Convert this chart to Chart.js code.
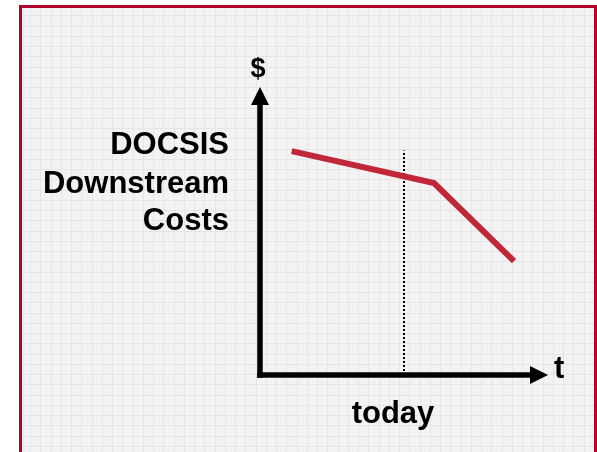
<!DOCTYPE html>
<html>
<head>
<meta charset="utf-8">
<script src="https://cdn.jsdelivr.net/npm/chart.js@4"></script>
<style>
  html, body { margin: 0; padding: 0; background: #ffffff; }
  #wrap { width: 597px; height: 452px; }
</style>
</head>
<body>
<div id="wrap"><canvas id="c" width="597" height="452"></canvas></div>
<script>
// ---- data (conceptual units on a 0..10 scale) ----
const costX = [1.1, 6.04, 8.82];
const costY = [7.8, 6.69, 3.97];
const todayX = [5, 5];
const todayY = [0, 7.82];
const yTitleLines = ['DOCSIS', 'Downstream', 'Costs'];
const xLabel = 'today';
const yAxisLabel = '$';
const xAxisLabel = 't';

const FONT = "'Liberation Sans', Arial, sans-serif";

const decor = {
  id: 'decor',
  beforeDraw(chart) {
    const ctx = chart.ctx;
    const W = chart.width, H = chart.height;
    ctx.save();
    ctx.fillStyle = '#ffffff';
    ctx.fillRect(0, 0, W, H);
    // panel
    ctx.fillStyle = '#f3f3f3';
    ctx.fillRect(20, 6, W - 20, H - 6);
    ctx.strokeStyle = '#e5e5e5';
    ctx.lineWidth = 1;
    const step = 10.25;
    for (let x = 19.75 + step; x < W; x += step) {
      const px = Math.round(x) + 0.5;
      ctx.beginPath(); ctx.moveTo(px, 6); ctx.lineTo(px, H); ctx.stroke();
    }
    for (let y = 5 + step; y < H; y += step) {
      const py = Math.round(y) + 0.5;
      ctx.beginPath(); ctx.moveTo(20, py); ctx.lineTo(W, py); ctx.stroke();
    }
    // border
    ctx.strokeStyle = '#b0042a';
    ctx.lineWidth = 3;
    ctx.beginPath();
    ctx.moveTo(20.5, H + 5);
    ctx.lineTo(20.5, 6.5);
    ctx.lineTo(595.5, 6.5);
    ctx.lineTo(595.5, H + 5);
    ctx.stroke();
    ctx.restore();
  },
  afterDatasetsDraw(chart) {
    const ctx = chart.ctx;
    const xs = chart.scales.x, ys = chart.scales.y;
    const x0 = xs.getPixelForValue(0), y0 = ys.getPixelForValue(0);
    const xMax = xs.getPixelForValue(10), yMax = ys.getPixelForValue(10);
    ctx.save();
    ctx.strokeStyle = '#000';
    ctx.fillStyle = '#000';
    ctx.lineWidth = 5.5;
    ctx.lineCap = 'butt';
    // y axis
    ctx.beginPath(); ctx.moveTo(x0, y0 + 2.75); ctx.lineTo(x0, yMax + 16); ctx.stroke();
    // x axis
    ctx.beginPath(); ctx.moveTo(x0 - 2.75, y0); ctx.lineTo(xMax - 17, y0); ctx.stroke();
    // arrow heads
    ctx.beginPath();
    ctx.moveTo(x0, yMax - 1); ctx.lineTo(x0 + 9, yMax + 17); ctx.lineTo(x0 - 9, yMax + 17); ctx.closePath(); ctx.fill();
    ctx.beginPath();
    ctx.moveTo(xMax, y0); ctx.lineTo(xMax - 18, y0 - 9); ctx.lineTo(xMax - 18, y0 + 9); ctx.closePath(); ctx.fill();
    // labels
    ctx.font = 'bold 27px ' + FONT;
    ctx.textAlign = 'center';
    ctx.textBaseline = 'alphabetic';
    ctx.fillText(yAxisLabel, x0 - 2, yMax - 11);
    ctx.font = 'bold 31px ' + FONT;
    ctx.textAlign = 'left';
    ctx.fillText(xAxisLabel, xMax + 6, y0 + 3);
    ctx.textAlign = 'center';
    ctx.fillText(xLabel, xs.getPixelForValue(todayX[0]) - 11, y0 + 48);
    ctx.textAlign = 'right';
    const baselines = [154, 193, 230];
    yTitleLines.forEach((t, i) => ctx.fillText(t, 229, baselines[i]));
    ctx.restore();
  }
};

new Chart(document.getElementById('c'), {
  type: 'line',
  data: {
    datasets: [
      {
        label: 'DOCSIS Downstream Costs',
        data: costX.map((x, i) => ({ x, y: costY[i] })),
        borderColor: '#c0283a',
        borderWidth: 6,
        pointRadius: 0,
        tension: 0,
        fill: false,
        borderCapStyle: 'butt',
        borderJoinStyle: 'miter'
      },
      {
        label: 'today',
        data: todayX.map((x, i) => ({ x, y: todayY[i] })),
        borderColor: '#000',
        borderWidth: 2,
        borderDash: [2, 2],
        pointRadius: 0,
        fill: false
      }
    ]
  },
  options: {
    responsive: false,
    animation: false,
    layout: { padding: { left: 260, right: 49, top: 88, bottom: 77 } },
    plugins: { legend: { display: false }, tooltip: { enabled: false } },
    scales: {
      x: { type: 'linear', min: 0, max: 10, display: false },
      y: { type: 'linear', min: 0, max: 10, display: false }
    }
  },
  plugins: [decor]
});
</script>
</body>
</html>
